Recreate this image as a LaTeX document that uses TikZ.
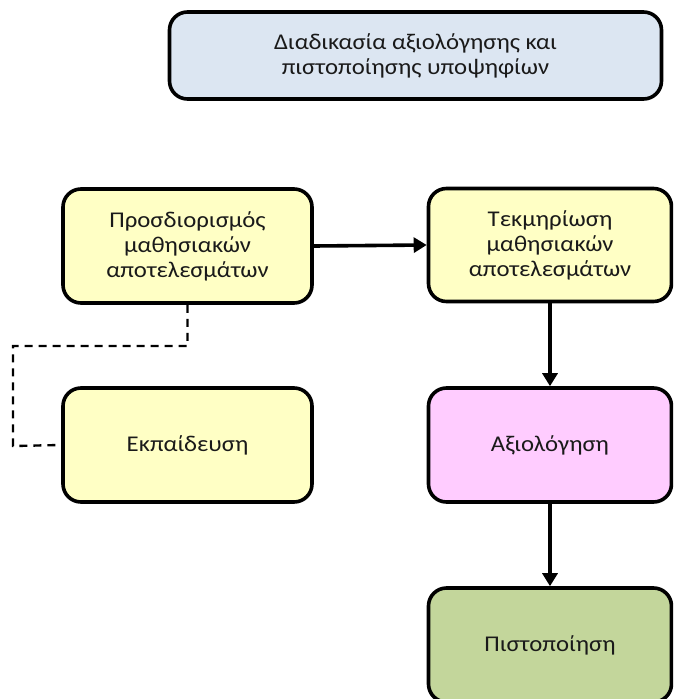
\documentclass[tikz,border=0pt]{standalone}
\usepackage{fontspec}
\setmainfont[FakeStretch=1.1]{Carlito}
\usetikzlibrary{arrows.meta}
\definecolor{titlefill}{HTML}{DCE6F2}
\definecolor{yellowfill}{HTML}{FFFFC5}
\definecolor{pinkfill}{HTML}{FFCCFF}
\definecolor{greenfill}{HTML}{C3D69B}
\definecolor{textgray}{HTML}{1A1A1A}
\tikzset{
  procbox/.style={draw=black, line width=3.6pt, rounded corners=18pt, align=center,
    font=\fontsize{22.5}{25}\selectfont, text=textgray, inner sep=0pt},
  flow/.style={line width=3.6pt, -{Triangle[length=13pt,width=15pt]}},
  dashlink/.style={line width=2.4pt, dash pattern=on 8pt off 6pt}
}
\begin{document}
\begin{tikzpicture}[x=1pt,y=-1pt]
\useasboundingbox (0,0) rectangle (673,699);
\clip (0,0) rectangle (673,699);
\node[procbox, fill=titlefill, minimum width=492pt, minimum height=87pt] (title) at (415.5,55.5)
  {Διαδικασία αξιολόγησης και\\πιστοποίησης υποψηφίων};
\node[procbox, fill=yellowfill, minimum width=249pt, minimum height=114pt] (def) at (187.5,246)
  {Προσδιορισμός\\μαθησιακών\\αποτελεσμάτων};
\node[procbox, fill=yellowfill, minimum width=243pt, minimum height=113pt] (doc) at (550,245)
  {Τεκμηρίωση\\μαθησιακών\\αποτελεσμάτων};
\node[procbox, fill=yellowfill, minimum width=249pt, minimum height=114pt] (edu) at (187.5,445)
  {Εκπαίδευση};
\node[procbox, fill=pinkfill, minimum width=243pt, minimum height=114pt] (eval) at (550,445)
  {Αξιολόγηση};
\node[procbox, fill=greenfill, minimum width=243pt, minimum height=114pt] (cert) at (550,645)
  {Πιστοποίηση};
\coordinate (d1) at (187.5,346);
\coordinate (d2) at (13,346);
\coordinate (d3) at (13,446);
\draw[flow] (def.east) -- (doc.west);
\draw[flow] (doc.south) -- (eval.north);
\draw[flow] (eval.south) -- (cert.north);
\draw[dashlink] (def.south) -- (d1) -- (d2) -- (d3) -- (edu.west);
\end{tikzpicture}
\end{document}
